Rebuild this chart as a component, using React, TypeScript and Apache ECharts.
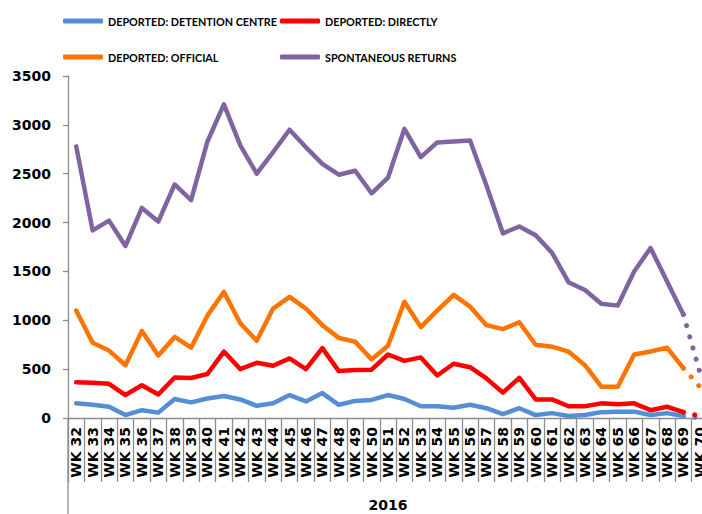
import React, { useEffect, useRef } from "react";
import * as echarts from "echarts";

const weeks = [
  "WK 32", "WK 33", "WK 34", "WK 35", "WK 36", "WK 37", "WK 38", "WK 39", "WK 40", "WK 41",
  "WK 42", "WK 43", "WK 44", "WK 45", "WK 46", "WK 47", "WK 48", "WK 49", "WK 50", "WK 51",
  "WK 52", "WK 53", "WK 54", "WK 55", "WK 56", "WK 57", "WK 58", "WK 59", "WK 60", "WK 61",
  "WK 62", "WK 63", "WK 64", "WK 65", "WK 66", "WK 67", "WK 68", "WK 69", "WK 70",
];

// WK 32 .. WK 69 (solid part)
const detentionCentre = [150, 135, 115, 30, 80, 55, 195, 160, 200, 225, 190, 125, 150, 235, 170, 255, 135, 175, 185, 235, 195, 120, 120, 105, 135, 100, 40, 100, 30, 50, 20, 30, 60, 65, 65, 30, 50, 20];
const directly = [365, 360, 350, 235, 335, 240, 415, 410, 450, 680, 500, 565, 535, 610, 500, 715, 480, 490, 495, 650, 585, 620, 435, 555, 520, 405, 260, 410, 190, 190, 120, 120, 150, 140, 150, 80, 115, 60];
const official = [1100, 770, 690, 540, 890, 640, 830, 720, 1050, 1290, 970, 790, 1120, 1240, 1120, 950, 820, 780, 600, 740, 1190, 930, 1100, 1260, 1140, 950, 910, 980, 750, 730, 680, 540, 320, 320, 650, 680, 720, 510];
const spontaneous = [2780, 1920, 2020, 1760, 2150, 2010, 2390, 2230, 2830, 3210, 2790, 2500, 2720, 2950, 2770, 2600, 2490, 2530, 2300, 2460, 2960, 2670, 2820, 2830, 2840, 2380, 1890, 1960, 1870, 1690, 1390, 1310, 1170, 1150, 1500, 1740, 1400, 1060];

// WK 70 (dotted continuation)
const lastWeek = { detentionCentre: 0, directly: 20, official: 320, spontaneous: 470 };

const yTicks = { min: 0, max: 3500, interval: 500 };

const names = [
  "DEPORTED: DETENTION CENTRE",
  "DEPORTED: DIRECTLY",
  "DEPORTED: OFFICIAL",
  "SPONTANEOUS RETURNS",
];
const colors = ["#558ED5", "#FF0000", "#FF7300", "#8064A2"];

const gray = "#8c8c8c";
const labelFont = "'DejaVu Sans', sans-serif";
const legendFont = "Lato, 'Liberation Sans', sans-serif";

function solid(vals: number[]) {
  return [...vals, null];
}
function dotted(vals: number[], last: number) {
  return weeks.map((_, i) =>
    i === vals.length - 1 ? vals[vals.length - 1] : i === vals.length ? last : null
  );
}

export default function App() {
  const ref = useRef<HTMLDivElement>(null);
  useEffect(() => {
    if (!ref.current) return;
    const chart = echarts.init(ref.current, null, { renderer: "svg" });
    const all = [
      [detentionCentre, lastWeek.detentionCentre],
      [directly, lastWeek.directly],
      [official, lastWeek.official],
      [spontaneous, lastWeek.spontaneous],
    ] as [number[], number][];
    const series: any[] = [];
    all.forEach(([vals], i) => {
      series.push({
        name: names[i],
        type: "line",
        data: solid(vals),
        symbol: "none",
        itemStyle: { color: colors[i] },
        lineStyle: { color: colors[i], width: 4.5, cap: "round", join: "round" },
        z: 2 + i,
      });
    });
    all.forEach(([vals, last], i) => {
      series.push({
        name: names[i] + " (dotted)",
        type: "line",
        data: dotted(vals, last),
        symbol: "none",
        itemStyle: { color: colors[i] },
        lineStyle: { color: colors[i], width: 5, type: [0.1, 11.5], cap: "round" },
        z: 2 + i,
      });
    });
    const legendBase = {
      orient: "vertical",
      top: 14,
      padding: 0,
      itemWidth: 40,
      itemHeight: 5,
      itemGap: 22,
      icon: "roundRect",
      textStyle: {
        fontFamily: legendFont,
        fontWeight: "bold",
        fontSize: 10.8,
        color: "#000",
        lineHeight: 14,
      },
    };
    chart.setOption({
      animation: false,
      backgroundColor: "#fff",
      legend: [
        { ...legendBase, left: 63, data: [names[0], names[2]] },
        { ...legendBase, left: 280, data: [names[1], names[3]] },
      ],
      grid: {
        left: 68,
        top: 76,
        width: 640,
        height: 342,
        containLabel: false,
        outerBoundsMode: "none",
      },
      xAxis: {
        type: "category",
        data: weeks,
        boundaryGap: true,
        axisLine: { show: true, lineStyle: { color: gray, width: 1.3 } },
        axisTick: { show: true, length: 64, lineStyle: { color: gray, width: 1.3 } },
        axisLabel: {
          interval: 0,
          rotate: 90,
          margin: 9,
          fontFamily: labelFont,
          fontWeight: "bold",
          fontSize: 14,
          color: "#000",
          hideOverlap: false,
        },
        name: "2016",
        nameLocation: "middle",
        nameGap: 80,
        nameTextStyle: { fontFamily: labelFont, fontWeight: "bold", fontSize: 14, color: "#000" },
        splitLine: { show: false },
      },
      yAxis: {
        type: "value",
        min: yTicks.min,
        max: yTicks.max,
        interval: yTicks.interval,
        axisLine: { show: true, lineStyle: { color: gray, width: 1.3 } },
        axisTick: { show: true, length: 5, lineStyle: { color: gray, width: 1.3 } },
        axisLabel: {
          margin: 17,
          fontFamily: labelFont,
          fontWeight: "bold",
          fontSize: 14,
          color: "#000",
          formatter: (v: number) => String(v),
        },
        splitLine: { show: false },
      },
      graphic: [
        {
          type: "line",
          shape: { x1: 68, y1: 418, x2: 68, y2: 514 },
          style: { stroke: gray, lineWidth: 1.3 },
        },
      ],
      series,
    });
    return () => chart.dispose();
  }, []);
  return (
    <div
      ref={ref}
      style={{ position: "fixed", left: 0, top: 0, width: 702, height: 514, background: "#fff" }}
    />
  );
}
